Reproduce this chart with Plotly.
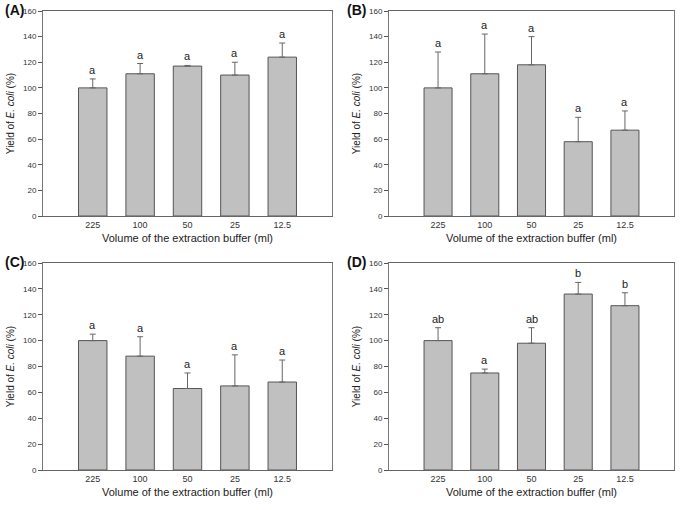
import plotly.graph_objects as go
from plotly.subplots import make_subplots

# Categories (volume of extraction buffer, ml)
volumes = ["225", "100", "50", "25", "12.5"]

# Mean yield (%) and upper error per panel
yield_a = [100, 111, 117, 110, 124]
err_a = [7, 8, 0.5, 10, 11]
letters_a = ["a", "a", "a", "a", "a"]

yield_b = [100, 111, 118, 58, 67]
err_b = [28, 31, 22, 19, 15]
letters_b = ["a", "a", "a", "a", "a"]

yield_c = [100, 88, 63, 65, 68]
err_c = [5, 15, 12, 24, 17]
letters_c = ["a", "a", "a", "a", "a"]

yield_d = [100, 75, 98, 136, 127]
err_d = [10, 3, 12, 9, 10]
letters_d = ["ab", "a", "ab", "b", "b"]

panels = [
    ("(A)", yield_a, err_a, letters_a),
    ("(B)", yield_b, err_b, letters_b),
    ("(C)", yield_c, err_c, letters_c),
    ("(D)", yield_d, err_d, letters_d),
]

y_ticks = [0, 20, 40, 60, 80, 100, 120, 140, 160]

W, H = 685, 510
fig = make_subplots(rows=2, cols=2)

# plot boxes in pixels (left, right) / (top, bottom)
x_px = [(43, 332), (389, 674)]
y_px = [(11, 216), (263, 470)]
x_domains = [[a / W, b / W] for a, b in x_px]
y_domains = [[1 - b / H, 1 - a / H] for a, b in y_px]
label_x = [3, 345]

font = "Liberation Sans, Arial, sans-serif"

for i, (label, vals, errs, letters) in enumerate(panels):
    row, col = i // 2 + 1, i % 2 + 1
    fig.add_trace(go.Bar(
        x=volumes,
        y=vals,
        width=0.6,
        marker=dict(color="#c0c0c0", line=dict(color="#555555", width=1)),
        error_y=dict(type="data", array=errs, arrayminus=[0] * len(errs),
                     symmetric=False, color="#666666", thickness=1, width=3),
        showlegend=False,
        hoverinfo="skip",
    ), row=row, col=col)

    xa = "x" if i == 0 else f"x{i + 1}"
    ya = "y" if i == 0 else f"y{i + 1}"
    # significance letters above the error bars (category index as x)
    for k, (v, e, t) in enumerate(zip(vals, errs, letters)):
        fig.add_annotation(x=k, y=v + e, text=t, showarrow=False,
                           xref=xa, yref=ya, yanchor="bottom", yshift=1,
                           font=dict(family=font, size=11, color="#222222"))

    xd = x_domains[col - 1]
    yd = y_domains[row - 1]
    fig.add_annotation(x=label_x[col - 1] / W,
                       y=1 - (y_px[row - 1][0] - 1) / H,
                       xref="paper", yref="paper", text=f"<b>{label}</b>",
                       showarrow=False, xanchor="left", yanchor="middle",
                       font=dict(family=font, size=14, color="#111111"))

    fig.update_xaxes(
        domain=xd, type="category", range=[-1.05, 4 + 1.05],
        showline=True, linecolor="#666666", linewidth=1, mirror=True,
        ticks="", showgrid=False, automargin=False,
        tickfont=dict(family=font, size=9, color="#333333"),
        title=dict(text="Volume of the extraction buffer (ml)", standoff=5,
                   font=dict(family=font, size=11, color="#222222")),
        row=row, col=col)
    fig.update_yaxes(
        domain=yd, range=[0, 160], tickvals=y_ticks,
        showline=True, linecolor="#777777", linewidth=1, mirror=True,
        ticks="outside", ticklen=4, tickcolor="#555555", showgrid=False,
        zeroline=False, automargin=False,
        tickfont=dict(family=font, size=8, color="#333333"),
        title=dict(text="Yield of <i>E. coli</i> (%)", standoff=6,
                   font=dict(family=font, size=10, color="#222222")),
        row=row, col=col)

fig.update_layout(
    width=W, height=H,
    margin=dict(l=0, r=0, t=0, b=0),
    paper_bgcolor="white", plot_bgcolor="white",
    bargap=0.4,
)

# page body has a default 8px margin; drop it so the figure sits at (0, 0)
fig.write_html("out.html", config={"displayModeBar": False},
               post_script="document.body.style.margin='0';")
